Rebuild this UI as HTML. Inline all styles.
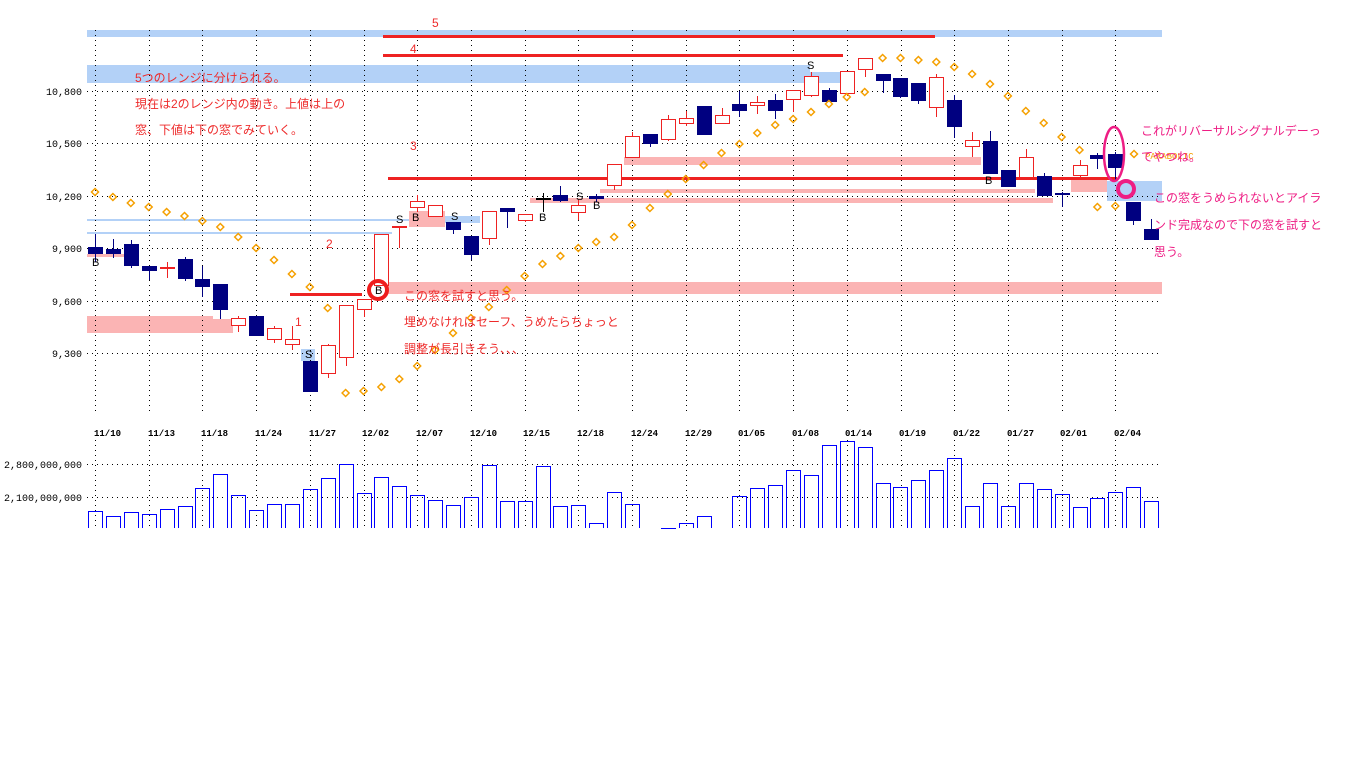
<!DOCTYPE html>
<html><head><meta charset="utf-8"><style>
html,body{margin:0;padding:0;background:#fff;}
svg{display:block;}
.t{font-family:"Liberation Sans","Noto Sans CJK JP",sans-serif;font-size:12px;}
.ax{font-family:"Liberation Mono","DejaVu Sans Mono",monospace;font-size:10px;fill:#000;}
.dt{font-family:"Liberation Mono","DejaVu Sans Mono",monospace;font-size:9px;fill:#000;font-weight:bold;}
.lb{font-family:"Liberation Sans",sans-serif;font-size:11px;fill:#000;}
</style></head><body>
<svg id="s" width="1366" height="768" viewBox="0 0 1366 768" xmlns="http://www.w3.org/2000/svg">
<g id="bands">
<rect x="87" y="30" width="1075" height="7" fill="#b3d1f7"/>
<rect x="87" y="65" width="723" height="18" fill="#b3d1f7"/>
<rect x="810" y="72" width="45" height="11" fill="#b3d1f7"/>
<rect x="87" y="219" width="323" height="2" fill="#b3d1f7"/>
<rect x="87" y="232" width="305" height="2" fill="#b3d1f7"/>
<rect x="87" y="316" width="126" height="17" fill="#fbb4b4"/>
<rect x="213" y="319" width="20" height="14" fill="#fbb4b4"/>
<rect x="87" y="254" width="38" height="3" fill="#fbb4b4"/>
<rect x="387" y="282" width="775" height="12" fill="#fbb4b4"/>
<rect x="409" y="211" width="36" height="16" fill="#fbb4b4"/>
<rect x="445" y="216" width="35" height="7" fill="#b3d1f7"/>
<rect x="301" y="349" width="14" height="12" fill="#b3d1f7"/>
<rect x="624" y="157" width="357" height="8" fill="#fbb4b4"/>
<rect x="600" y="189" width="435" height="4" fill="#fbb4b4"/>
<rect x="530" y="198" width="523" height="5" fill="#fbb4b4"/>
<rect x="1071" y="179" width="36" height="13" fill="#fbb4b4"/>
<rect x="1107" y="181" width="55" height="20" fill="#b3d1f7"/>
</g>
<g id="grid" stroke="#000" stroke-width="1" stroke-dasharray="1,4"></g>
<g id="lines">
<rect x="383" y="35" width="552" height="3" fill="#ee2222"/>
<rect x="383" y="54" width="460" height="3" fill="#ee2222"/>
<rect x="388" y="177" width="729" height="3" fill="#ee2222"/>
<rect x="290" y="293" width="72" height="3" fill="#ee2222"/>
</g>
<g id="candles"></g>
<g id="dots" fill="none" stroke="#f5a000" stroke-width="1.5"></g>
<g id="vol" fill="none" stroke="#0000ff" stroke-width="1"></g>
<circle cx="378" cy="290" r="9" fill="none" stroke="#ee1c1c" stroke-width="4"/>
<ellipse cx="1114" cy="154" rx="10" ry="27" fill="none" stroke="#ee1d84" stroke-width="2.5"/>
<circle cx="1126" cy="189" r="8" fill="none" stroke="#ee1d84" stroke-width="4"/>
<g class="ax">
<text x="82" y="95" text-anchor="end">10,800</text>
<text x="82" y="147" text-anchor="end">10,500</text>
<text x="82" y="200" text-anchor="end">10,200</text>
<text x="82" y="252" text-anchor="end">9,900</text>
<text x="82" y="305" text-anchor="end">9,600</text>
<text x="82" y="357" text-anchor="end">9,300</text>
<text x="82" y="468" text-anchor="end">2,800,000,000</text>
<text x="82" y="501" text-anchor="end">2,100,000,000</text>
</g>
<g class="dt">
<text x="94" y="436">11/10</text><text x="148" y="436">11/13</text><text x="201" y="436">11/18</text><text x="255" y="436">11/24</text><text x="309" y="436">11/27</text><text x="362" y="436">12/02</text><text x="416" y="436">12/07</text><text x="470" y="436">12/10</text><text x="523" y="436">12/15</text><text x="577" y="436">12/18</text><text x="631" y="436">12/24</text><text x="685" y="436">12/29</text><text x="738" y="436">01/05</text><text x="792" y="436">01/08</text><text x="845" y="436">01/14</text><text x="899" y="436">01/19</text><text x="953" y="436">01/22</text><text x="1007" y="436">01/27</text><text x="1060" y="436">02/01</text><text x="1114" y="436">02/04</text>
</g>
<g class="lb">
<text x="92" y="266">B</text><text x="305" y="358">S</text><text x="375" y="294">B</text><text x="396" y="223">S</text><text x="412" y="221">B</text><text x="451" y="220">S</text><text x="539" y="221">B</text><text x="576" y="200">S</text><text x="593" y="209">B</text><text x="807" y="69">S</text><text x="985" y="184">B</text>
</g>
<g class="t" fill="#ee2a2a">
<text x="432" y="27">5</text><text x="410" y="53">4</text><text x="410" y="150">3</text><text x="326" y="248">2</text><text x="295" y="326">1</text>
<text x="135" y="82">5つのレンジに分けられる。</text>
<text x="135" y="108">現在は2のレンジ内の動き。上値は上の</text>
<text x="135" y="134">窓、下値は下の窓でみていく。</text>
<text x="404" y="300">この窓を試すと思う。</text>
<text x="404" y="326">埋めなければセーフ、うめたらちょっと</text>
<text x="404" y="353">調整が長引きそう、、、</text>
</g>
<text x="1145" y="159" font-family="Liberation Mono,monospace" font-size="9" fill="#f5a000">PARABOLIC</text>
<g class="t" fill="#ee1d84">
<text x="1141" y="135">これがリバーサルシグナルデーっ</text>
<text x="1141" y="161">てやつね。</text>
<text x="1154" y="202">この窓をうめられないとアイラ</text>
<text x="1154" y="229">ンド完成なので下の窓を試すと</text>
<text x="1154" y="256">思う。</text>
</g>
</svg>
<script>
var NS="http://www.w3.org/2000/svg";
function el(p,t,a){var e=document.createElementNS(NS,t);for(var k in a)e.setAttribute(k,a[k]);document.getElementById(p).appendChild(e);return e;}
[91,143,196,248,301,353,464,497].forEach(function(y){el("grid","line",{x1:87,y1:y+.5,x2:1162,y2:y+.5});});
for(var k=0;k<20;k++){var x=Math.round(95+53.7*k)+.5;el("grid","line",{x1:x,y1:30,x2:x,y2:412});el("grid","line",{x1:x,y1:440,x2:x,y2:528});}
var C=[["n",247,254,234,262],["n",249,254,239,258],["n",244,266,240,268],["n",266,271,266,280],["rc",268,268,262,278],["n",259,279,257,281],["n",279,287,266,297],["n",284,310,284,319],["r",318,325,316,332],["n",316,336,316,336],["r",328,339,326,343],["r",339,344,326,350],["n",361,392,361,392],["r",345,373,344,378],["r",305,357,305,366],["r",299,309,299,317],["r",234,285,234,285],["rc",227,227,227,248],["r",201,207,195,212],["r",205,216,205,216],["n",222,230,222,234],["n",236,255,236,260],["r",211,238,211,245],["n",208,212,208,228],["r",214,220,214,222],["kc",199,199,193,212],["n",195,201,186,202],["r",205,212,200,220],["n",196,199,194,202],
["r",164,185,164,190],["r",136,157,132,157],["n",134,144,134,147],["r",119,139,115,141],["r",118,123,111,126],["n",106,135,106,135],["r",115,123,108,123],["n",104,111,91,117],["r",102,105,96,114],["n",100,111,94,119],["r",90,99,90,112],["r",76,95,72,97],["n",90,102,88,102],["r",71,93,71,96],["r",58,69,58,77],["n",74,81,74,93],["n",78,97,78,98],["n",83,101,83,104],["r",77,107,74,117],["n",100,127,95,138],["r",140,146,132,157],["n",141,174,131,174],["n",170,187,170,187],["r",157,177,149,177],["n",176,196,173,196],["nc",194,194,192,207],["r",165,175,160,180],["n",155,159,153,169],["n",154,168,152,180],["n",202,221,202,225],["n",229,240,219,240]];
C.forEach(function(c,i){var x=Math.round(95+17.9*i);var t=c[0];
 var col=t[0]=="r"?"#ee2222":(t[0]=="k"?"#000":"#000080");
 el("candles","line",{x1:x+.5,y1:c[3],x2:x+.5,y2:c[4],stroke:col,"stroke-width":1});
 if(t.length>1){el("candles","rect",{x:x-7,y:c[1]-1,width:15,height:2,fill:col});}
 else if(t=="r"){el("candles","rect",{x:x-7+.5,y:c[1]+.5,width:14,height:Math.max(1,c[2]-c[1]),fill:"#fff",stroke:col,"stroke-width":1});}
 else{el("candles","rect",{x:x-7,y:c[1],width:15,height:Math.max(2,c[2]-c[1]),fill:col});}
});
var D=[192,197,203,207,212,216,221,227,237,248,260,274,287,308,393,391,387,379,366,350,333,318,307,290,276,264,256,248,242,237,225,208,194,179,165,153,144,133,125,119,112,104,97,92,58,58,60,62,67,74,84,96,111,123,137,150,207,206,null,null];
D.forEach(function(y,i){if(y==null)return;var x=95+17.9*i;el("dots","path",{d:"M"+x+" "+(y-3.5)+"L"+(x+3.5)+" "+y+"L"+x+" "+(y+3.5)+"L"+(x-3.5)+" "+y+"Z"});});
el("dots","path",{d:"M1134 150.5L1137.5 154L1134 157.5L1130.5 154Z"});
var V=[511,516,512,514,509,506,488,474,495,510,504,504,489,478,464,493,477,486,495,500,505,497,465,501,501,466,506,505,523,492,504,null,528,523,516,null,496,488,485,470,475,445,441,447,483,487,480,470,458,506,483,506,483,489,494,507,498,492,487,501];
V.forEach(function(y,i){if(y==null)return;var x=Math.round(95+17.9*i);el("vol","path",{d:"M"+(x-7+.5)+" 528V"+(y+.5)+"H"+(x+7+.5)+"V528"});});
</script>
</body></html>
